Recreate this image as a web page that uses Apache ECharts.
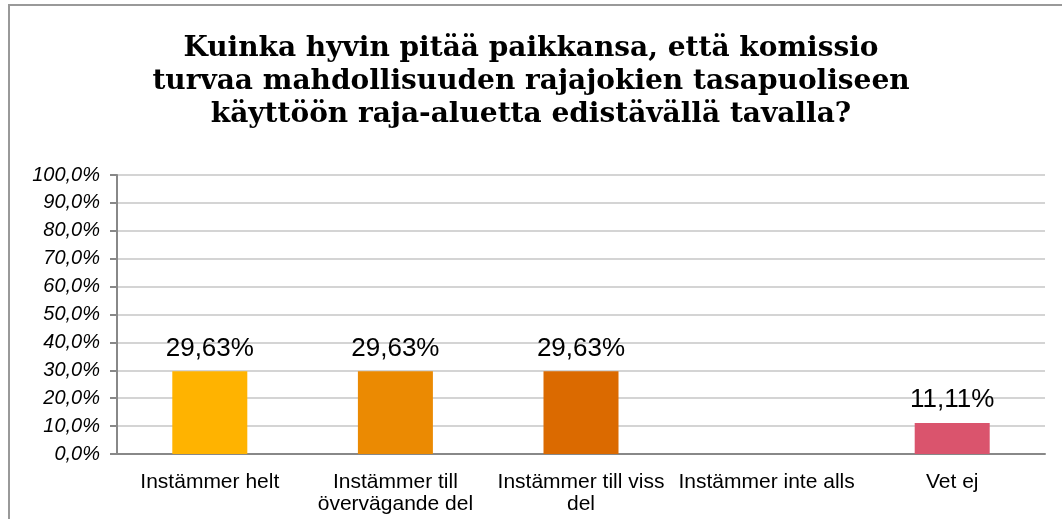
<!doctype html>
<html lang="fi">
<head>
<meta charset="utf-8">
<title>Komissio - rajajoet</title>
<script src="https://cdn.jsdelivr.net/npm/echarts@6/dist/echarts.min.js"></script>
<style>
  html, body { margin: 0; padding: 0; background: #fff; }
  #main { width: 1062px; height: 519px; }
</style>
</head>
<body>
<div id="main"></div>
<script type="text/javascript">
    // data
    var titleText = 'Kuinka hyvin pitää paikkansa, että komissio\nturvaa mahdollisuuden rajajokien tasapuoliseen\nkäyttöön raja-aluetta edistävällä tavalla?';
    var categories = ['Instämmer helt', 'Instämmer till\növervägande del', 'Instämmer till viss\ndel', 'Instämmer inte alls', 'Vet ej'];
    var values = [29.63, 29.63, 29.63, 0, 11.11];
    var colors = ['#FFB300', '#EB8A02', '#DB6A00', '#E0E0E0', '#DA546D'];

    var myChart = echarts.init(document.getElementById('main'));

    var option = {
        animation: false,
        title: {
            text: titleText,
            left: 'center',
            top: 27,
            textStyle: {
                fontFamily: 'DejaVu Serif',
                fontWeight: 'bold',
                fontSize: 28,
                lineHeight: 33,
                color: '#000'
            }
        },
        graphic: [{
            type: 'rect',
            shape: { x: 9, y: 5, width: 1100, height: 600 },
            style: { fill: 'none', stroke: '#999', lineWidth: 2 },
            silent: true
        }],
        grid: {
            left: 117, right: 17, top: 175, bottom: 65
        },
        xAxis: {
            type: 'category',
            data: categories,
            axisLine: { lineStyle: { color: '#888', width: 2 } },
            axisTick: { alignWithLabel: false, length: 7, lineStyle: { color: '#888', width: 2 } },
            axisLabel: {
                interval: 0,
                color: '#000',
                fontFamily: 'Liberation Sans',
                fontSize: 21,
                lineHeight: 22,
                margin: 17
            }
        },
        yAxis: {
            type: 'value',
            min: 0, max: 100, interval: 10,
            axisLine: { show: true, lineStyle: { color: '#888', width: 2 } },
            axisTick: { show: true, length: 7, lineStyle: { color: '#888', width: 2 } },
            splitLine: { lineStyle: { color: '#d4d4d4', width: 2 } },
            axisLabel: {
                color: '#000',
                fontFamily: 'Liberation Sans',
                fontStyle: 'italic',
                fontSize: 20,
                margin: 17,
                formatter: function (v) { return v.toFixed(1).replace('.', ',') + '%'; }
            }
        },
        series: [{
            type: 'bar',
            barWidth: 75,
            data: values.map(function (v, i) {
                return {
                    value: v,
                    itemStyle: { color: colors[i] },
                    label: { show: v > 0 }
                };
            }),
            label: {
                position: 'top',
                distance: 10,
                color: '#000',
                fontFamily: 'Liberation Sans',
                fontSize: 26,
                formatter: function (p) { return p.value.toFixed(2).replace('.', ',') + '%'; }
            }
        }]
    };

    myChart.setOption(option);
</script>
</body>
</html>
